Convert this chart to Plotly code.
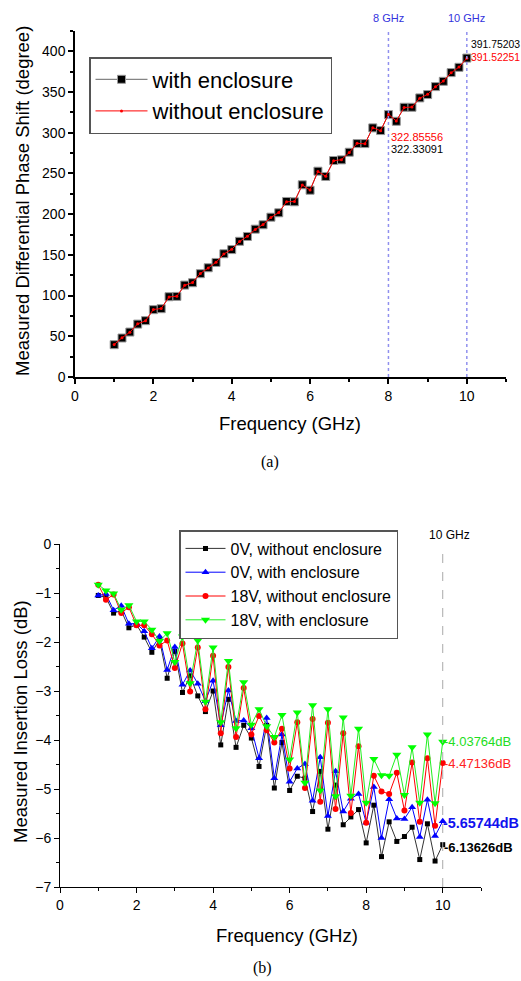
import plotly.graph_objects as go

# ---------------- data ----------------
freq = [1.0, 1.2, 1.4, 1.6, 1.8, 2.0, 2.2, 2.4, 2.6, 2.8,
        3.0, 3.2, 3.4, 3.6, 3.8, 4.0, 4.2, 4.4, 4.6, 4.8,
        5.0, 5.2, 5.4, 5.6, 5.8, 6.0, 6.2, 6.4, 6.6, 6.8,
        7.0, 7.2, 7.4, 7.6, 7.8, 8.0, 8.2, 8.4, 8.6, 8.8,
        9.0, 9.2, 9.4, 9.6, 9.8, 10.0]

phase_with = [39.7, 47.9, 55.2, 65.0, 69.2, 82.7, 83.9, 98.6, 99.0, 112.9,
              115.8, 126.9, 134.2, 140.7, 151.4, 156.5, 166.7, 172.6, 181.6, 187.0,
              196.3, 201.7, 215.6, 215.2, 236.1, 229.4, 252.8, 246.3, 265.9, 266.7,
              276.1, 286.7, 286.7, 306.0, 302.7, 322.33091, 314.1, 331.3, 331.3, 342.8,
              346.9, 356.7, 363.2, 373.9, 380.4, 391.75203]
phase_without = [39.9, 48.2, 55.0, 65.3, 69.0, 82.9, 84.1, 98.3, 99.3, 112.6,
                 116.1, 127.2, 133.9, 141.0, 151.1, 156.9, 166.4, 172.9, 181.3, 187.3,
                 196.0, 202.0, 215.3, 215.5, 235.8, 229.7, 252.5, 246.6, 265.6, 267.0,
                 275.8, 287.0, 286.4, 306.3, 302.4, 322.85556, 314.4, 331.0, 331.6, 342.5,
                 347.2, 356.4, 363.5, 373.6, 380.7, 391.52251]

il_0v_without = [-1.05, -1.09, -1.41, -1.36, -1.71, -1.65, -1.90, -2.21, -1.95, -2.74,
                 -2.19, -3.03, -2.69, -3.10, -3.42, -3.00, -4.10, -3.17, -4.15, -3.70,
                 -3.96, -4.54, -3.70, -4.98, -4.05, -5.03, -4.74, -4.78, -5.46, -4.64,
                 -5.82, -4.92, -5.73, -5.57, -5.42, -6.10, -5.33, -6.38, -5.67, -6.07,
                 -5.97, -5.78, -6.44, -5.71, -6.47, -6.13626]
il_0v_with = [-1.05, -1.02, -1.35, -1.26, -1.63, -1.62, -1.78, -2.13, -1.89, -2.57,
              -2.10, -2.87, -2.58, -2.85, -3.21, -2.79, -3.70, -2.99, -3.61, -3.60,
              -3.76, -4.37, -3.55, -4.78, -3.89, -4.85, -4.58, -4.49, -5.24, -4.35,
              -5.55, -4.64, -5.46, -5.20, -5.10, -5.69, -4.96, -6.00, -5.21, -5.60,
              -5.61, -5.37, -5.98, -5.22, -5.96, -5.65744]
il_18v_without = [-0.83, -1.14, -1.03, -1.41, -1.29, -1.66, -1.66, -1.84, -2.07, -1.97,
                  -2.53, -2.03, -3.01, -2.11, -3.37, -2.28, -3.86, -2.51, -3.94, -2.94,
                  -3.89, -3.51, -3.80, -4.05, -3.77, -4.58, -3.64, -4.98, -3.57, -5.26,
                  -3.65, -5.41, -3.86, -5.49, -4.13, -5.69, -4.73, -5.05, -5.10, -4.67,
                  -5.44, -4.46, -5.67, -4.37, -5.75, -4.47136]
il_18v_with = [-0.83, -0.95, -1.01, -1.34, -1.25, -1.58, -1.58, -1.75, -1.98, -1.82,
               -2.41, -1.89, -2.84, -1.97, -3.22, -2.11, -3.64, -2.39, -3.76, -2.82,
               -3.69, -3.37, -3.72, -3.94, -3.49, -4.40, -3.44, -4.87, -3.29, -5.03,
               -3.37, -5.15, -3.54, -5.14, -3.77, -5.28, -4.39, -4.72, -4.73, -4.30,
               -5.12, -4.15, -5.28, -3.89, -5.29, -4.03764]

W, H = 521, 981
FONT = "Arial, 'Liberation Sans', sans-serif"
SERIF = "'Times New Roman', 'Liberation Serif', serif"


def px(x):
    return x / W


def py(y):
    return 1 - y / H


fig = go.Figure()

# ---- top chart ----
fig.add_trace(go.Scatter(x=freq, y=phase_with, name="with enclosure", mode="lines+markers",
                         line=dict(color="#666666", width=1),
                         marker=dict(symbol="square", size=8, color="black",
                                     line=dict(color="#999999", width=1)),
                         xaxis="x", yaxis="y", legend="legend"))
fig.add_trace(go.Scatter(x=freq, y=phase_without, name="without enclosure", mode="lines+markers",
                         line=dict(color="red", width=1),
                         marker=dict(symbol="circle", size=3, color="red"),
                         xaxis="x", yaxis="y", legend="legend"))

# ---- bottom chart ----
fig.add_trace(go.Scatter(x=freq, y=il_0v_without, name="0V, without enclosure", mode="lines+markers",
                         line=dict(color="#333333", width=1),
                         marker=dict(symbol="square", size=5, color="black"),
                         xaxis="x2", yaxis="y2", legend="legend2"))
fig.add_trace(go.Scatter(x=freq, y=il_0v_with, name="0V, with enclosure", mode="lines+markers",
                         line=dict(color="#0000ff", width=1),
                         marker=dict(symbol="triangle-up", size=7, color="#0000ff"),
                         xaxis="x2", yaxis="y2", legend="legend2"))
fig.add_trace(go.Scatter(x=freq, y=il_18v_without, name="18V, without enclosure", mode="lines+markers",
                         line=dict(color="#ff0000", width=1),
                         marker=dict(symbol="circle", size=6, color="#ff0000"),
                         xaxis="x2", yaxis="y2", legend="legend2"))
fig.add_trace(go.Scatter(x=freq, y=il_18v_with, name="18V, with enclosure", mode="lines+markers",
                         line=dict(color="#22ee22", width=1),
                         marker=dict(symbol="triangle-down", size=8, color="#00ff00"),
                         xaxis="x2", yaxis="y2", legend="legend2"))

axis_common = dict(showline=True, linecolor="black", showgrid=False, zeroline=False,
                   automargin=False,
                   ticks="outside", tickcolor="black", tickfont=dict(family=FONT, size=14, color="black"))

fig.update_layout(
    width=W, height=H, autosize=False,
    margin=dict(l=0, r=0, t=0, b=0, pad=0, autoexpand=False),
    paper_bgcolor="white", plot_bgcolor="white",
    font=dict(family=FONT, color="black"),
    xaxis=dict(domain=[px(75), px(506)], range=[0, 11], tickvals=[0, 2, 4, 6, 8, 10],
               ticklen=5, tickwidth=1.5, linewidth=1.5,
               minor=dict(dtick=1, ticks="outside", ticklen=3, tickwidth=1.5, tickcolor="black"),
               anchor="y", **axis_common),
    yaxis=dict(domain=[py(377), py(31)], range=[0, 425], tickvals=[0, 50, 100, 150, 200, 250, 300, 350, 400],
               ticklen=5, tickwidth=1.5, linewidth=1.5,
               minor=dict(dtick=25, ticks="outside", ticklen=3, tickwidth=1.5, tickcolor="black"),
               anchor="x", **axis_common),
    xaxis2=dict(domain=[px(60), px(481)], range=[0, 11], tickvals=[0, 2, 4, 6, 8, 10],
                ticklen=5, tickwidth=1, linewidth=1,
                minor=dict(dtick=1, ticks="outside", ticklen=3, tickwidth=1, tickcolor="black"),
                anchor="y2", **axis_common),
    yaxis2=dict(domain=[py(887), py(544)], range=[-7, 0], tickvals=[-7, -6, -5, -4, -3, -2, -1, 0],
                ticklen=5, tickwidth=1, linewidth=1,
                minor=dict(dtick=0.5, ticks="outside", ticklen=3, tickwidth=1, tickcolor="black"),
                anchor="x2", **axis_common),
    legend=dict(x=px(89), y=py(57), xanchor="left", yanchor="top",
                bgcolor="white", bordercolor="#555555", borderwidth=1.5,
                font=dict(family=FONT, size=22, color="black"), itemwidth=52,
                tracegroupgap=0),
    legend2=dict(x=px(179), y=py(530), xanchor="left", yanchor="top",
                 bgcolor="white", bordercolor="#555555", borderwidth=1.5,
                 font=dict(family=FONT, size=16, color="black"), itemwidth=40,
                 tracegroupgap=0),
    showlegend=True,
)

shapes = [
    dict(type="line", xref="x", yref="y", x0=8, x1=8, y0=0, y1=425,
         line=dict(color="#9090ee", width=1.5, dash="dot")),
    dict(type="line", xref="x", yref="y", x0=10, x1=10, y0=0, y1=425,
         line=dict(color="#9090ee", width=1.5, dash="dot")),
    dict(type="line", xref="x2", yref="y2", x0=10, x1=10, y0=-7, y1=-0.05,
         line=dict(color="#aaaaaa", width=1, dash="dash")),
]
fig.update_layout(shapes=shapes)

ann = []


def add(text, x, y, size, color="black", xanchor="center", yanchor="middle", angle=0,
        family=FONT, xref="paper", yref="paper", bold=False):
    if bold:
        text = "<b>" + text + "</b>"
    ann.append(dict(text=text, x=x, y=y, xref=xref, yref=yref, showarrow=False,
                    xanchor=xanchor, yanchor=yanchor, textangle=angle, borderpad=0,
                    font=dict(family=family, size=size, color=color)))


# axis titles
add("Measured Differential Phase Shift (degree)", px(22), py(201), 18.5, angle=-90)
add("Frequency (GHz)", px(290), py(423), 18.5)
add("(a)", px(270), py(462), 16, family=SERIF)
add("Measured Insertion Loss (dB)", px(20), py(722), 18.5, angle=-90)
add("Frequency (GHz)", px(287), py(935), 18.5)
add("(b)", px(262), py(968), 16, family=SERIF)

# top labels
add("8 GHz", 8, py(18), 11, color="#3333dd", xref="x")
add("10 GHz", 10, py(18), 11, color="#3333dd", xref="x")
add("391.75203", px(470), py(45), 10.4, color="black", xanchor="left")
add("391.52251", px(470), py(58), 10.4, color="red", xanchor="left")
add("322.85556", px(390), py(137), 11, color="red", xanchor="left")
add("322.33091", px(390), py(149), 11, color="black", xanchor="left")

# bottom labels
add("10 GHz", px(449), py(535), 12)
add("-4.03764dB", px(443), py(741), 13, color="#22dd22", xanchor="left")
add("-4.47136dB", px(443), py(763), 13, color="#ff2222", xanchor="left")
add("-5.65744dB", px(442), py(823), 14.4, color="#1111ee", xanchor="left", bold=True)
add("-6.13626dB", px(443), py(847), 13, color="black", xanchor="left", bold=True)

fig.update_layout(annotations=ann)

fig.write_html("out.html",
               config={"displayModeBar": False},
               post_script="document.body.style.margin='0';document.body.style.overflow='hidden';")
